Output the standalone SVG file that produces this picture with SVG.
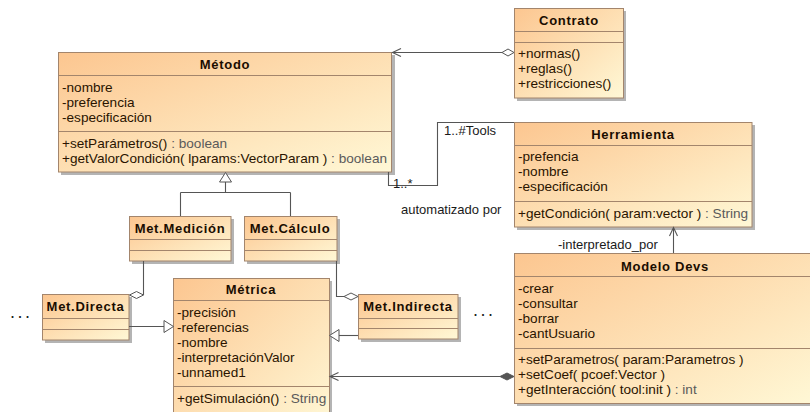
<svg xmlns="http://www.w3.org/2000/svg" width="810" height="412" viewBox="0 0 810 412">
  <defs>
    <linearGradient id="fillGrad" x1="0" y1="0" x2="1" y2="1">
      <stop offset="0" stop-color="#FCC690"/>
      <stop offset="1" stop-color="#FFF8D6"/>
    </linearGradient>
  </defs>
  <style>
    .shadow { fill: #b4b4b4; }
    .box { fill: url(#fillGrad); stroke: #A3856C; stroke-width: 1; }
    .sep { stroke: #A3856C; stroke-width: 1; }
    .title { font-family: "Liberation Sans", Arial, sans-serif; font-size: 13px; font-weight: bold; fill: #1a0d00; text-anchor: middle; letter-spacing: 0.7px; }
    .txt { font-family: "Liberation Sans", Arial, sans-serif; font-size: 13.6px; fill: #2a1400; }
    .type { fill: #5a5a5a; }
    .lbl { font-family: "Liberation Sans", Arial, sans-serif; font-size: 13px; fill: #1a1a1a; }
    .dots { font-family: "Liberation Sans", Arial, sans-serif; font-size: 18px; fill: #222; letter-spacing: 2.5px; }
    .conn { fill: none; stroke: #555; stroke-width: 1.1; }
    .arrow { fill: none; stroke: #555; stroke-width: 1.1; }
    .hollow { fill: #fff; stroke: #555; stroke-width: 1; }
    .solid { fill: #555; stroke: #555; stroke-width: 1; }
  </style>

  <!-- Método -->
  <g id="metodo">
    <rect class="shadow" x="61" y="55" width="334" height="120"/>
    <rect class="box" x="58.5" y="52.5" width="333" height="119.5"/>
    <line class="sep" x1="58.5" y1="75.5" x2="391.5" y2="75.5"/>
    <line class="sep" x1="58.5" y1="131.5" x2="391.5" y2="131.5"/>
    <text class="title" x="225" y="69">Método</text>
    <text class="txt" x="62" y="92">-nombre</text>
    <text class="txt" x="62" y="107">-preferencia</text>
    <text class="txt" x="62" y="122">-especificación</text>
    <text class="txt" x="62" y="148">+setParámetros()<tspan class="type"> : boolean</tspan></text>
    <text class="txt" x="62" y="163">+getValorCondición( lparams:VectorParam )<tspan class="type"> : boolean</tspan></text>
  </g>

  <!-- Contrato -->
  <g id="contrato">
    <rect class="shadow" x="517" y="11" width="109" height="90"/>
    <rect class="box" x="514.5" y="8.5" width="109" height="89.5"/>
    <line class="sep" x1="514.5" y1="31.5" x2="623.5" y2="31.5"/>
    <line class="sep" x1="514.5" y1="42.5" x2="623.5" y2="42.5"/>
    <text class="title" x="569" y="25">Contrato</text>
    <text class="txt" x="518" y="58">+normas()</text>
    <text class="txt" x="518" y="73">+reglas()</text>
    <text class="txt" x="518" y="88">+restricciones()</text>
  </g>

  <!-- Herramienta -->
  <g id="herramienta">
    <rect class="shadow" x="517" y="125" width="238" height="105"/>
    <rect class="box" x="514.5" y="122.5" width="237.5" height="104.5"/>
    <line class="sep" x1="514.5" y1="145.5" x2="752" y2="145.5"/>
    <line class="sep" x1="514.5" y1="201.5" x2="752" y2="201.5"/>
    <text class="title" x="633" y="139">Herramienta</text>
    <text class="txt" x="518" y="161">-prefencia</text>
    <text class="txt" x="518" y="176">-nombre</text>
    <text class="txt" x="518" y="191">-especificación</text>
    <text class="txt" x="518" y="218">+getCondición( param:vector )<tspan class="type"> : String</tspan></text>
  </g>

  <!-- Modelo Devs -->
  <g id="modelo-devs">
    <rect class="shadow" x="517" y="256" width="302" height="150"/>
    <rect class="box" x="514.5" y="253.5" width="302" height="150"/>
    <line class="sep" x1="514.5" y1="276.5" x2="816.5" y2="276.5"/>
    <line class="sep" x1="514.5" y1="348.5" x2="816.5" y2="348.5"/>
    <text class="title" x="665" y="271">Modelo Devs</text>
    <text class="txt" x="518" y="293">-crear</text>
    <text class="txt" x="518" y="308">-consultar</text>
    <text class="txt" x="518" y="323">-borrar</text>
    <text class="txt" x="518" y="338">-cantUsuario</text>
    <text class="txt" x="518" y="364">+setParametros( param:Parametros )</text>
    <text class="txt" x="518" y="379">+setCoef( pcoef:Vector )</text>
    <text class="txt" x="518" y="394">+getInteracción( tool:init )<tspan class="type"> : int</tspan></text>
  </g>

  <!-- Métrica -->
  <g id="metrica">
    <rect class="shadow" x="176" y="281" width="156" height="150"/>
    <rect class="box" x="173.5" y="278.5" width="156" height="150"/>
    <line class="sep" x1="173.5" y1="300.5" x2="329.5" y2="300.5"/>
    <line class="sep" x1="173.5" y1="386.5" x2="329.5" y2="386.5"/>
    <text class="title" x="251" y="294">Métrica</text>
    <text class="txt" x="177" y="317">-precisión</text>
    <text class="txt" x="177" y="332">-referencias</text>
    <text class="txt" x="177" y="347">-nombre</text>
    <text class="txt" x="177" y="362">-interpretaciónValor</text>
    <text class="txt" x="177" y="377">-unnamed1</text>
    <text class="txt" x="177" y="403">+getSimulación()<tspan class="type"> : String</tspan></text>
  </g>

  <!-- Met.Medición -->
  <g id="met-medicion">
    <rect class="shadow" x="132" y="219" width="102" height="45"/>
    <rect class="box" x="129.5" y="216.5" width="101.5" height="44.5"/>
    <line class="sep" x1="129.5" y1="239.5" x2="231" y2="239.5"/>
    <line class="sep" x1="129.5" y1="250.5" x2="231" y2="250.5"/>
    <text class="title" x="180" y="233">Met.Medición</text>
  </g>

  <!-- Met.Cálculo -->
  <g id="met-calculo">
    <rect class="shadow" x="247" y="219" width="93" height="45"/>
    <rect class="box" x="244.5" y="216.5" width="92.5" height="44.5"/>
    <line class="sep" x1="244.5" y1="239.5" x2="337" y2="239.5"/>
    <line class="sep" x1="244.5" y1="250.5" x2="337" y2="250.5"/>
    <text class="title" x="290" y="233">Met.Cálculo</text>
  </g>

  <!-- Met.Directa -->
  <g id="met-directa">
    <rect class="shadow" x="45" y="297" width="87" height="46"/>
    <rect class="box" x="42.5" y="294.5" width="86.5" height="45.5"/>
    <line class="sep" x1="42.5" y1="318.5" x2="129" y2="318.5"/>
    <line class="sep" x1="42.5" y1="329.5" x2="129" y2="329.5"/>
    <text class="title" x="85.5" y="311">Met.Directa</text>
  </g>

  <!-- Met.Indirecta -->
  <g id="met-indirecta">
    <rect class="shadow" x="361" y="297" width="100" height="45"/>
    <rect class="box" x="358.5" y="294.5" width="99.5" height="44.5"/>
    <line class="sep" x1="358.5" y1="318.5" x2="458" y2="318.5"/>
    <line class="sep" x1="358.5" y1="328.5" x2="458" y2="328.5"/>
    <text class="title" x="408" y="311">Met.Indirecta</text>
  </g>

  <!-- ellipsis marks beside the metric subclasses -->
  <text class="dots" x="10" y="318">...</text>
  <text class="dots" x="473" y="316">...</text>

  <!-- connectors -->
  <g id="connectors">
    <!-- Contrato aggregates Método -->
    <path class="conn" d="M502,52.5 L392,52.5"/>
    <path class="arrow" d="M401,48.5 L392.5,52.5 L401,56.5"/>
    <path class="hollow" d="M514,52.5 L508,49 L502,52.5 L508,56 Z"/>

    <!-- Método to Herramienta association -->
    <path class="conn" d="M388.5,172 L388.5,185.5 L437.5,185.5 L437.5,122.5 L514,122.5"/>

    <!-- Modelo Devs navigates to Herramienta -->
    <path class="conn" d="M673.5,253 L673.5,228"/>
    <path class="arrow" d="M669.5,236 L673.5,227.5 L677.5,236"/>

    <!-- generalization tree from the Método subclasses -->
    <path class="hollow" d="M225.5,172.5 L219.5,182 L231.5,182 Z"/>
    <path class="conn" d="M225.5,182 L225.5,192.5 M180.5,192.5 L290.5,192.5 M180.5,192.5 L180.5,216 M290.5,192.5 L290.5,216"/>

    <!-- Met.Medición to Met.Directa aggregation -->
    <path class="conn" d="M143.5,261 L143.5,295"/>
    <path class="hollow" d="M143.5,295 L136.5,291.5 L129.5,295 L136.5,298.5 Z"/>

    <!-- Met.Cálculo to Met.Indirecta aggregation -->
    <path class="conn" d="M336.5,261 L336.5,296.5 L344,296.5"/>
    <path class="hollow" d="M344,296.5 L351,293 L358,296.5 L351,300 Z"/>

    <!-- Met.Directa specializes Métrica -->
    <path class="conn" d="M129,326.5 L164,326.5"/>
    <path class="hollow" d="M173.5,326.5 L164,320.5 L164,332.5 Z"/>

    <!-- Met.Indirecta specializes Métrica -->
    <path class="conn" d="M358,335.5 L339,335.5"/>
    <path class="hollow" d="M329.5,335.5 L339,329.5 L339,341.5 Z"/>

    <!-- Modelo Devs composition with Métrica -->
    <path class="conn" d="M500,376.5 L330,376.5"/>
    <path class="arrow" d="M338.5,372.5 L330,376.5 L338.5,380.5"/>
    <path class="solid" d="M514,376.5 L507,373 L500,376.5 L507,380 Z"/>
  </g>

  <!-- association labels -->
  <text class="lbl" x="393" y="188">1..*</text>
  <text class="lbl" x="444" y="135">1..#Tools</text>
  <text class="lbl" x="401" y="214">automatizado por</text>
  <text class="lbl" x="558" y="249">-interpretado_por</text>
</svg>
